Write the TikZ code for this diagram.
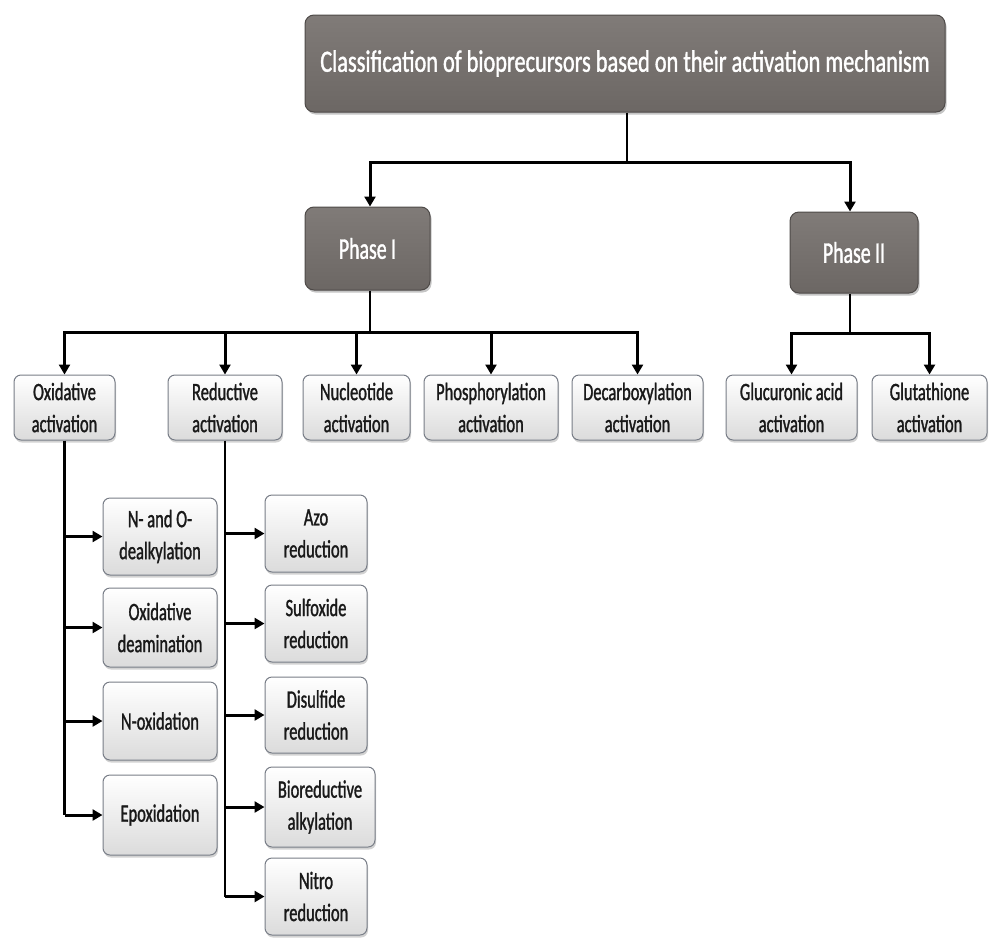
\documentclass[tikz,border=0pt]{standalone}
\usepackage{fontspec}
\newfontfamily\cf[FakeStretch=0.66,FakeBold=1.2]{Carlito}
\newfontfamily\cft[FakeStretch=0.72,FakeBold=1.2]{Carlito}
\usetikzlibrary{arrows.meta,shadows}
\definecolor{darkbox}{RGB}{108,103,100}
\definecolor{darkboxtop}{RGB}{128,123,120}
\definecolor{darkedge}{RGB}{78,74,72}
\definecolor{lightedge}{RGB}{120,125,135}
\definecolor{txt}{RGB}{25,25,25}
\tikzset{
  darkstyle/.style={draw=darkedge, line width=1pt, rounded corners=9pt, top color=darkboxtop, bottom color=darkbox,
    text=white, align=center, inner sep=2pt,
    drop shadow={shadow xshift=1.5pt, shadow yshift=-2.5pt, opacity=0.45}},
  lightstyle/.style={draw=lightedge, line width=1pt, rounded corners=7pt, top color=white, bottom color=black!14,
    text=txt, align=center, inner sep=1pt, font=\cf\fontsize{25}{32}\selectfont,
    drop shadow={shadow xshift=1pt, shadow yshift=-2.5pt, opacity=0.35}},
  conn/.style={line width=2.2pt, black},
  arr/.style={line width=3pt, black, -{Triangle[length=10pt,width=11pt]}},
}
\begin{document}
\begin{tikzpicture}[x=1pt,y=-1pt]
\useasboundingbox (0,0) rectangle (990,937);
\fill[white] (0,0) rectangle (990,937);

% top
\node[darkstyle, minimum width=640pt, minimum height=97pt, font=\cft\fontsize{31}{36}\selectfont] (title) at (625,63.5)
  {Classification of bioprecursors based on their activation mechanism};
\node[darkstyle, minimum width=125pt, minimum height=83pt, font=\cf\fontsize{30}{34}\selectfont] (p1) at (367.5,248.5) {Phase I};
\node[darkstyle, minimum width=128pt, minimum height=81pt, font=\cf\fontsize{30}{34}\selectfont] (p2) at (854,252.5) {Phase II};

% second row
\node[lightstyle, minimum width=101pt, minimum height=65pt] (ox)  at (64.5,407.5)  {Oxidative\\activation};
\node[lightstyle, minimum width=114pt, minimum height=65pt] (red) at (225,407.5)   {Reductive\\activation};
\node[lightstyle, minimum width=107pt, minimum height=65pt] (nuc) at (356.5,407.5) {Nucleotide\\activation};
\node[lightstyle, minimum width=134pt, minimum height=65pt] (pho) at (491,407.5)   {Phosphorylation\\activation};
\node[lightstyle, minimum width=131pt, minimum height=65pt] (dec) at (637.5,407.5) {Decarboxylation\\activation};
\node[lightstyle, minimum width=131pt, minimum height=65pt] (glu) at (791.5,407.5) {Glucuronic acid\\activation};
\node[lightstyle, minimum width=115pt, minimum height=65pt] (gth) at (929.5,407.5) {Glutathione\\activation};

% left column
\node[lightstyle, minimum width=114pt, minimum height=77pt] (a1) at (160,536.5) {N- and O-\\dealkylation};
\node[lightstyle, minimum width=114pt, minimum height=79pt] (a2) at (160,627.5) {Oxidative\\deamination};
\node[lightstyle, minimum width=114pt, minimum height=78pt] (a3) at (160,721)   {N-oxidation};
\node[lightstyle, minimum width=114pt, minimum height=80pt] (a4) at (160,815)   {Epoxidation};

% right column
\node[lightstyle, minimum width=102pt, minimum height=77pt] (b1) at (316,533.5) {Azo\\reduction};
\node[lightstyle, minimum width=102pt, minimum height=77pt] (b2) at (316,623.5) {Sulfoxide\\reduction};
\node[lightstyle, minimum width=102pt, minimum height=76pt] (b3) at (316,715)   {Disulfide\\reduction};
\node[lightstyle, minimum width=110pt, minimum height=80pt] (b4) at (320,807)   {Bioreductive\\alkylation};
\node[lightstyle, minimum width=102pt, minimum height=77pt] (b5) at (316,896.5) {Nitro\\reduction};

% connectors from title
\coordinate (tb) at (627,162);
\draw[conn] (title.south -| tb) -- (tb);
\draw[arr] (tb) -| (p1.north -| 370,0);
\draw[arr] (tb) -| (p2.north -| 850,0);

% phase I bus
\coordinate (b1bus) at (370,332);
\draw[conn] (p1.south -| b1bus) -- (b1bus);
\draw[arr] (b1bus) -| (ox.north);
\draw[arr] (b1bus) -| (red.north);
\draw[arr] (b1bus) -| (nuc.north);
\draw[arr] (b1bus) -| (pho.north);
\draw[arr] (b1bus) -| (dec.north);

% phase II bus
\coordinate (b2bus) at (850,333);
\draw[conn] (p2.south -| b2bus) -- (b2bus);
\draw[arr] (b2bus) -| (glu.north);
\draw[arr] (b2bus) -| (gth.north);

% oxidative column
\draw[conn] (ox.south) -- (ox.south |- a4.west);
\foreach \n in {a1,a2,a3,a4} \draw[arr] (ox.south |- \n.west) -- (\n.west);

% reductive column
\draw[conn] (red.south) -- (red.south |- b5.west);
\foreach \n in {b1,b2,b3,b4,b5} \draw[arr] (red.south |- \n.west) -- (\n.west);
\end{tikzpicture}
\end{document}
